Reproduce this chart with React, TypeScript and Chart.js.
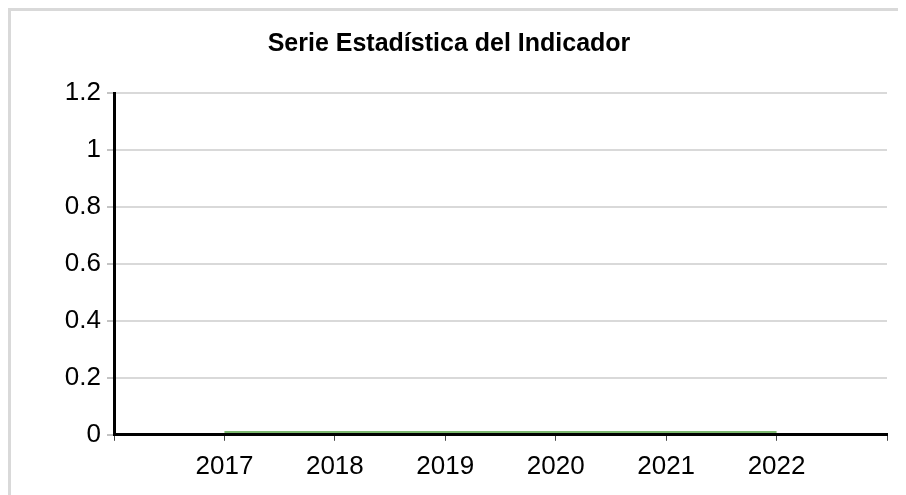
import React, { useEffect, useRef } from "react";
import { Chart, registerables } from "chart.js";

Chart.register(...registerables);

const title = "Serie Estadística del Indicador";
const categories = ["", "2017", "2018", "2019", "2020", "2021", "2022", ""];
const values: (number | null)[] = [null, 0.01, 0.01, 0.01, 0.01, 0.01, 0.01, null];
const yTicks = [0, 0.2, 0.4, 0.6, 0.8, 1, 1.2];

export default function App() {
  const ref = useRef<HTMLCanvasElement | null>(null);

  useEffect(() => {
    if (!ref.current) return;
    const font = "Liberation Sans, Arial, sans-serif";
    const chart = new Chart(ref.current, {
      type: "line",
      data: {
        labels: categories,
        datasets: [
          {
            label: "Indicador",
            data: values,
            borderColor: "#7cb86f",
            borderWidth: 2,
            pointRadius: 0,
            fill: false,
            tension: 0,
          },
        ],
      },
      options: {
        animation: false,
        responsive: false,
        maintainAspectRatio: false,
        layout: { padding: { left: 0, right: 19, top: 0, bottom: 3 } },
        plugins: {
          legend: { display: false },
          tooltip: { enabled: false },
          title: {
            display: true,
            text: title,
            color: "#000",
            font: { family: font, size: 25, weight: "bold" },
            padding: { top: 18, bottom: 34 },
          },
        },
        scales: {
          x: {
            type: "category",
            offset: false,
            grid: {
              drawOnChartArea: false,
              drawTicks: true,
              tickLength: 6,
              tickColor: "#444",
              tickWidth: 1,
            },
            border: { display: true, color: "#000", width: 3 },
            ticks: {
              color: "#000",
              autoSkip: false,
              maxRotation: 0,
              padding: 10,
              font: { family: font, size: 26 },
            },
          },
          y: {
            min: 0,
            max: 1.2,
            afterBuildTicks: (axis: any) => {
              axis.ticks = yTicks.map((v) => ({ value: v }));
            },
            afterFit: (axis: any) => {
              axis.width = 103;
            },
            grid: {
              color: "#d9d9d9",
              lineWidth: 2,
              drawTicks: true,
              tickLength: 7,
              tickColor: "#888",
              tickWidth: 1,
            },
            border: { display: true, color: "#000", width: 3 },
            ticks: {
              color: "#000",
              padding: 6,
              font: { family: font, size: 26 },
              callback: (v: any) => String(Math.round(Number(v) * 10) / 10),
            },
          },
        },
      },
    });
    return () => chart.destroy();
  }, []);

  return (
    <div
      style={{
        width: 895,
        height: 487,
        borderTop: "3px solid #d9d9d9",
        borderLeft: "3px solid #d9d9d9",
        overflow: "hidden",
      }}
    >
      <canvas ref={ref} width={895} height={484} style={{ display: "block" }} />
    </div>
  );
}
